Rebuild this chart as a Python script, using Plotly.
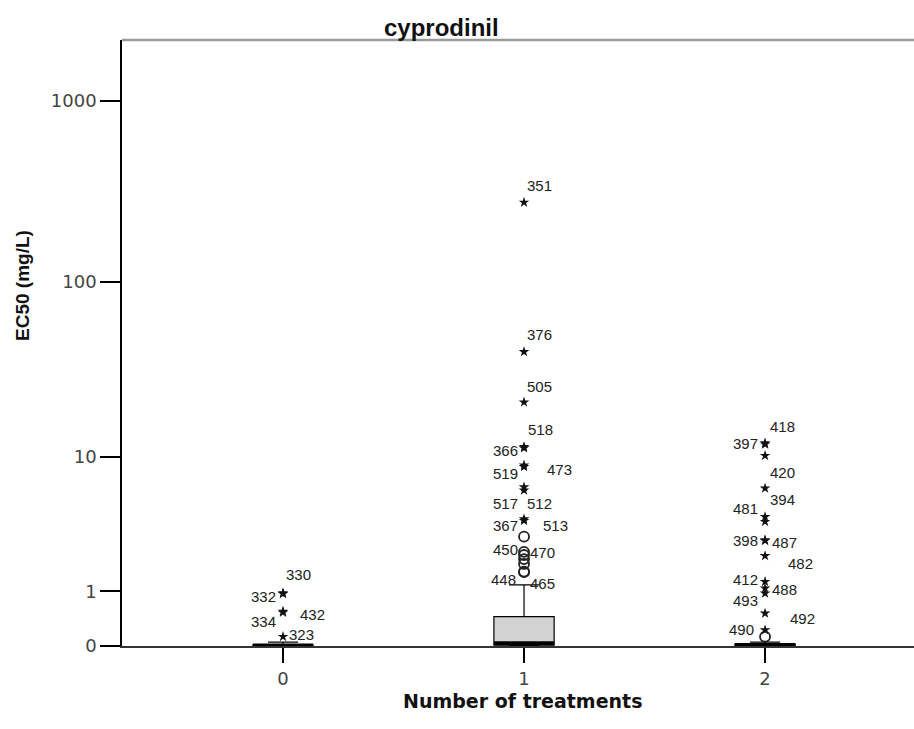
import numpy as np
import plotly.graph_objects as go

# ---------------- data (original units, mg/L) ----------------
categories = [0, 1, 2]
tick_labels_x = ["0", "1", "2"]

q1_vals = [0.0, 0.01, 0.0]
median_vals = [0.006, 0.035, 0.012]
q3_vals = [0.012, 0.45, 0.025]
lower_fence = [0.0, 0.0, 0.0]
upper_fence = [0.05, 1.17, 0.05]

# extreme values (stars) : value and case label
g0_star_vals = [0.96, 0.94, 0.55, 0.53, 0.125]
g0_star_labels = ["330", "332", "432", "334", "323"]

g1_star_vals = [276, 40.7, 21.0, 11.5, 11.3, 8.9, 8.7, 6.5, 6.2, 4.0, 3.9]
g1_star_labels = ["351", "376", "505", "518", "366", "519", "473", "517", "512", "367", "513"]
g1_circle_vals = [3.0, 2.30, 2.17, 2.01, 1.83, 1.57, 1.55]
g1_circle_labels = ["", "450", "470", "", "", "448", "465"]

g2_star_vals = [12.1, 11.9, 10.17, 6.39, 4.15, 3.84, 2.83, 2.80, 2.14, 1.26, 1.08, 0.95, 0.514, 0.225]
g2_star_labels = ["418", "397", "", "420", "394", "481", "398", "487", "482", "412", "488", "493", "492", "490"]
g2_circle_vals = [0.125]
g2_circle_labels = [""]

y_tick_values = [0, 1, 10, 100, 1000]

# ---------------- label offsets (style, pixels) ----------------
label_offsets = {
    "330": (15, -18), "332": (-20, 3), "432": (29, 3), "334": (-20, 9), "323": (18, -2),
    "351": (15, -17), "376": (15, -17), "505": (15, -16), "518": (16, -17), "366": (-19, 2),
    "519": (-19, 8), "473": (35, 3), "517": (-19, 16), "512": (15, 13), "367": (-19, 6),
    "513": (31, 5), "450": (-19, -2), "470": (18, -3), "448": (-21, 8), "465": (18, 11),
    "418": (17, -17), "397": (-20, -1), "420": (17, -16), "394": (17, -17), "481": (-20, -13),
    "398": (-20, 0), "487": (19, 2), "482": (35, 8), "412": (-20, -2), "488": (19, 1),
    "493": (-20, 7), "492": (37, 5), "490": (-24, 0),
}


def safelog(v):
    return np.log10(1.0 + np.asarray(v, dtype=float))


FONT_LBL = "Liberation Sans, Arial, sans-serif"
FONT_WIDE = "DejaVu Sans, sans-serif"

fig = go.Figure()

# boxes
fig.add_trace(go.Box(
    x=categories,
    q1=safelog(q1_vals), median=safelog(median_vals), q3=safelog(q3_vals),
    lowerfence=safelog(lower_fence), upperfence=safelog(upper_fence),
    width=0.25, whiskerwidth=0.5,
    fillcolor="#d3d3d3", line=dict(color="black", width=1.2),
    boxpoints=False, showlegend=False, hoverinfo="skip",
))

# thick median bars
for c, m in zip(categories, median_vals):
    fig.add_trace(go.Scatter(
        x=[c - 0.125, c + 0.125], y=[safelog(m)] * 2, mode="lines",
        line=dict(color="black", width=4), showlegend=False, hoverinfo="skip",
    ))

groups = [
    (0, g0_star_vals, g0_star_labels, [], []),
    (1, g1_star_vals, g1_star_labels, g1_circle_vals, g1_circle_labels),
    (2, g2_star_vals, g2_star_labels, g2_circle_vals, g2_circle_labels),
]

annotations = []
for cat, sv, sl, cv, cl in groups:
    if cv:
        fig.add_trace(go.Scatter(
            x=[cat] * len(cv), y=safelog(cv), mode="markers",
            marker=dict(symbol="circle-open", size=10, color="#222", line=dict(width=1.8)),
            showlegend=False, hoverinfo="skip",
        ))
    fig.add_trace(go.Scatter(
        x=[cat] * len(sv), y=safelog(sv), mode="markers",
        marker=dict(symbol="star", size=8, color="#111", line=dict(width=0)),
        showlegend=False, hoverinfo="skip",
    ))
    for vals, labs in ((sv, sl), (cv, cl)):
        for v, lab in zip(vals, labs):
            if not lab:
                continue
            dx, dy = label_offsets[lab]
            annotations.append(dict(
                x=cat, y=float(safelog(v)), xref="x", yref="y", text=lab,
                showarrow=False, xshift=dx, yshift=-dy,
                xanchor="center", yanchor="middle",
                font=dict(family=FONT_LBL, size=15, color="#222"),
            ))

# title and axis titles
annotations.append(dict(
    x=(441 - 122) / 792, y=1, xref="paper", yref="paper", text="<b>cyprodinil</b>",
    showarrow=False, xanchor="center", yanchor="middle", yshift=13,
    font=dict(family=FONT_LBL, size=24, color="#111"),
))
annotations.append(dict(
    x=(522 - 122) / 792, y=-55 / 606, xref="paper", yref="paper",
    text="<b>Number of treatments</b>", showarrow=False,
    xanchor="center", yanchor="middle",
    font=dict(family=FONT_WIDE, size=19, color="#111"),
))
annotations.append(dict(
    x=(22 - 122) / 792, y=(646 - 286) / 606, xref="paper", yref="paper",
    text="<b>EC50 (mg/L)</b>", showarrow=False, textangle=-90,
    xanchor="center", yanchor="middle",
    font=dict(family=FONT_LBL, size=19, color="#111"),
))

fig.update_layout(
    width=914, height=729,
    margin=dict(l=122, r=0, t=40, b=83),
    paper_bgcolor="white", plot_bgcolor="white",
    annotations=annotations,
    showlegend=False,
    shapes=[dict(type="line", xref="paper", yref="paper", x0=0, x1=1, y0=1, y1=1,
                 line=dict(color="#999", width=2.5))],
)
fig.update_xaxes(
    range=[-0.668, 2.618], tickvals=categories, ticktext=tick_labels_x,
    showline=True, linecolor="#333", linewidth=2, showgrid=False, zeroline=False,
    ticks="outside", ticklen=15, tickcolor="black", tickwidth=1.5,
    tickfont=dict(family=FONT_WIDE, size=18, color="#444"),
)
fig.update_yaxes(
    range=[0, 3.337], tickvals=safelog(y_tick_values), ticktext=[str(v) for v in y_tick_values],
    showline=True, linecolor="black", linewidth=1.5, showgrid=False, zeroline=False,
    ticks="outside", ticklen=20, tickcolor="black", tickwidth=1.5,
    tickfont=dict(family=FONT_WIDE, size=18, color="#444"),
)

fig.write_html("out.html")
